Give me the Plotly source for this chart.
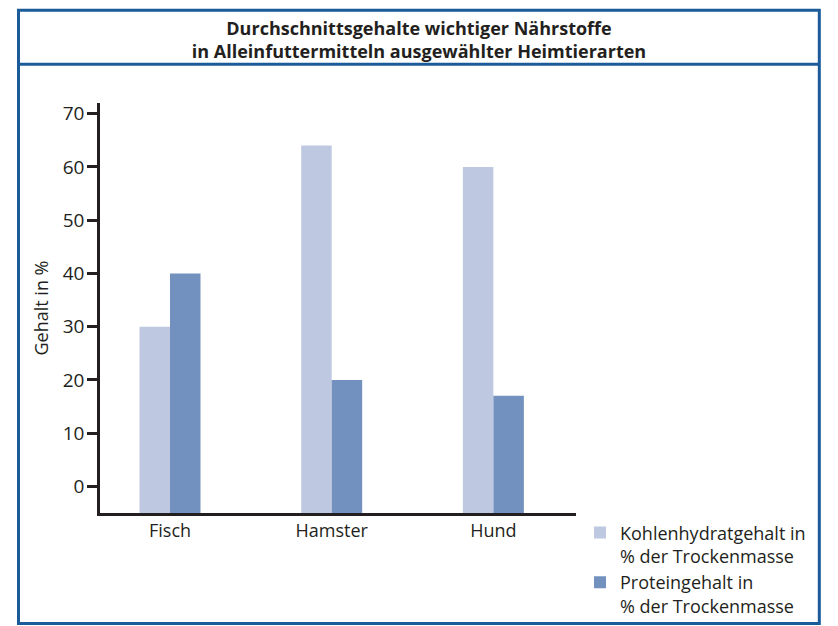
import plotly.graph_objects as go

categories = ["Fisch", "Hamster", "Hund"]
kohlenhydrat = [30, 64, 60]
protein = [40, 20, 17]
series_names = ["Kohlenhydratgehalt in<br>% der Trockenmasse", "Proteingehalt in<br>% der Trockenmasse"]
y_ticks = [0, 10, 20, 30, 40, 50, 60, 70]

BASE = -5
FONT = "Open Sans"
TXT = "#231f20"
BORDER = "#1b5b99"

fig = go.Figure()
for name, vals, col in [(series_names[0], kohlenhydrat, "#bec8e1"),
                        (series_names[1], protein, "#7391be")]:
    fig.add_trace(go.Bar(
        x=categories, y=[v - BASE for v in vals], base=BASE,
        name=name, marker=dict(color=col, line=dict(width=0)),
        customdata=vals, hovertemplate="%{x}: %{customdata}<extra></extra>",
    ))

# pixel helpers for decorative frame (plot area: x 100..576, y 102.7..512.7)
PL, PR, PT, PB = 100, 576, 102.7, 512.7
def px(x):
    return (x - PL) / (PR - PL)
def py(y):
    return (PB - y) / (PB - PT)

fig.update_layout(
    width=838, height=626,
    margin=dict(l=PL, r=838 - PR, t=PT, b=626 - PB, autoexpand=False),
    paper_bgcolor="white", plot_bgcolor="white",
    font=dict(family=FONT, color=TXT, size=17),
    barmode="group", bargap=0.623, bargroupgap=0,
    title=dict(
        text="<b>Durchschnittsgehalte wichtiger Nährstoffe<br>in Alleinfuttermitteln ausgewählter Heimtierarten</b>",
        x=0.5, xref="container", xanchor="center",
        y=1 - 35 / 626, yref="container", yanchor="middle",
        font=dict(family=FONT, size=18, color=TXT),
    ),
    xaxis=dict(
        range=[-0.433, 2.511], showline=True, linecolor=TXT, linewidth=2.5,
        ticks="", showgrid=False, zeroline=False, automargin=False,
        tickfont=dict(size=18, color=TXT),
    ),
    yaxis=dict(
        range=[BASE, 72], tickvals=y_ticks, showline=True, linecolor=TXT,
        linewidth=2.5, ticks="outside", ticklen=10, tickwidth=2.5, tickcolor=TXT,
        showgrid=False, zeroline=False, tickfont=dict(size=19, color=TXT),
        ticklabelstandoff=-1, automargin=False,
        title=dict(text="Gehalt in %", font=dict(size=18, color=TXT), standoff=10),
    ),
    legend=dict(
        x=px(580), y=py(514), xanchor="left", yanchor="top",
        font=dict(size=18, color=TXT), tracegroupgap=1, valign="top",
        bgcolor="rgba(0,0,0,0)", itemwidth=30,
    ),
    showlegend=True,
    shapes=[
        dict(type="rect", xref="paper", yref="paper",
             x0=px(18.5), x1=px(819.3), y0=py(623.3), y1=py(10),
             line=dict(color=BORDER, width=3), layer="below"),
        dict(type="line", xref="paper", yref="paper",
             x0=px(18.5), x1=px(819.3), y0=py(64), y1=py(64),
             line=dict(color=BORDER, width=3)),
    ],
)

fig.write_html("out.html")
